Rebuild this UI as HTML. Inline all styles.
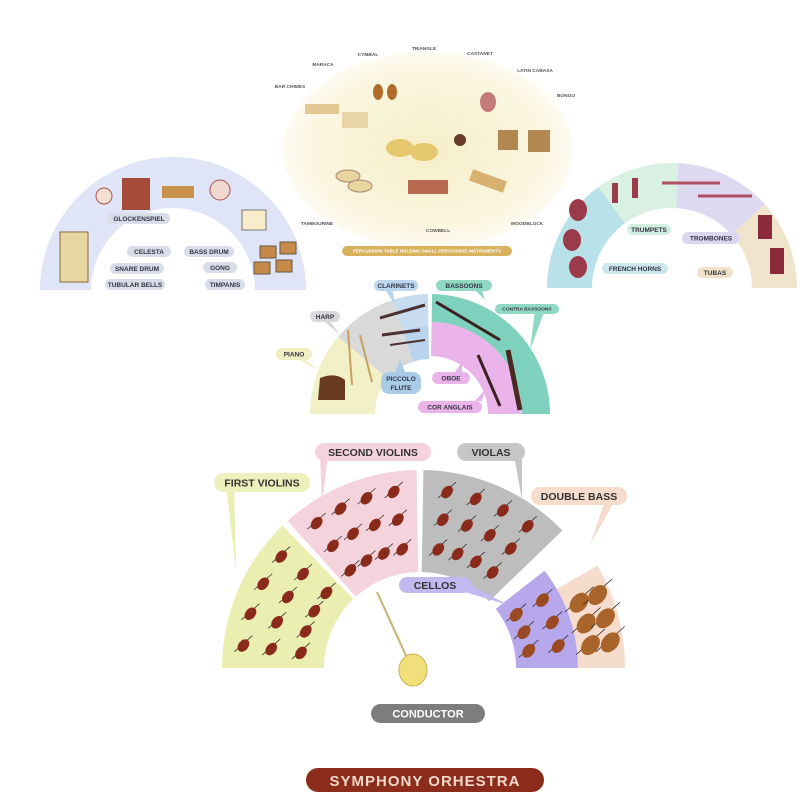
<!DOCTYPE html>
<html><head><meta charset="utf-8"><style>
body{margin:0;background:#fff;}
svg{display:block;font-family:"Liberation Sans",sans-serif;}
text{font-weight:bold;}
</style></head><body>
<svg id="s" width="800" height="800" viewBox="0 0 800 800">
<defs>
<radialGradient id="tbl" cx="50%" cy="50%" r="50%">
<stop offset="0" stop-color="#f6efc8"/><stop offset="0.8" stop-color="#faf6e0"/><stop offset="1" stop-color="#fdfbf2"/>
</radialGradient>
</defs>
<ellipse cx="428" cy="150" rx="145" ry="98" fill="url(#tbl)"/>
<g id="arcs"></g>
<g id="tails"></g>
<g id="inst"></g>
<g id="labels" font-size="7" fill="#445">
</g>
</svg>
<script>
const NS="http://www.w3.org/2000/svg";
const arcs=document.getElementById('arcs'), inst=document.getElementById('inst'), lab=document.getElementById('labels'), tails=document.getElementById('tails');
function P(cx,cy,r,a){a=a*Math.PI/180;return [cx+r*Math.cos(a),cy-r*Math.sin(a)];}
function sector(cx,cy,r1,r2,a1,a2,fill){
 const p1=P(cx,cy,r2,a1),p2=P(cx,cy,r2,a2),p3=P(cx,cy,r1,a2),p4=P(cx,cy,r1,a1);
 const e=document.createElementNS(NS,'path');
 e.setAttribute('d',`M${p1}A${r2},${r2} 0 0 1 ${p2}L${p3}A${r1},${r1} 0 0 0 ${p4}Z`);
 e.setAttribute('fill',fill);arcs.appendChild(e);
}
function el(tag,attrs,parent){const e=document.createElementNS(NS,tag);for(const k in attrs)e.setAttribute(k,attrs[k]);(parent||inst).appendChild(e);return e;}
function tail(x1,y1,x2,y2,x3,y3,c){el('polygon',{points:`${x1},${y1} ${x2},${y2} ${x3},${y3}`,fill:c},tails);}
// percussion left
sector(173,290,82,133,180,0,'#dfe4f6');
// brass
sector(672,288,80,125,180,126,'#b8e1e9');
sector(672,288,80,125,126,87,'#d9f1e2');
sector(672,288,80,125,87,42,'#ddd9f1');
sector(672,288,80,125,42,0,'#f1e4cc');
// woodwinds
sector(430,414,55,120,180,140,'#f1f0c6');
sector(430,414,55,120,140,108,'#d9d9d9');
sector(430,414,55,88,108,91,'#b9d3ec');
sector(430,414,88,120,108,91,'#c7dcf0');
sector(430,414,92,120,89,0,'#7ed2bd');
sector(430,414,58,92,89,0,'#eab4ea');
// strings
sector(420,668,158,205,30,0,'#f6dccd');
sector(420,668,96,198,180,134,'#eaeeb0');
sector(420,668,96,198,132,91,'#f4d3dc');
sector(420,668,96,198,89,44,'#bdbdbd');
sector(420,668,96,158,38,0,'#b7a8ec');
// tails
tail(226,485,234,485,236,570,'#eaeeb0');
tail(320,455,328,455,322,505,'#f4d3dc');
tail(514,455,522,455,522,500,'#c6c6c6');
tail(605,500,615,500,590,545,'#f6dccd');
tail(465,582,465,592,508,605,'#c4b8f0');
tail(382,285,392,285,395,305,'#bcd6ee');
tail(470,285,480,285,485,300,'#8fd8c4');
tail(535,310,545,310,530,350,'#8fd8c4');
tail(320,318,328,318,340,335,'#d9d9d9');
tail(296,352,300,360,318,370,'#efeec0');
tail(395,372,405,372,400,360,'#aacbe8');
tail(455,372,462,372,462,362,'#eab4ea');
tail(475,401,482,401,485,390,'#eab4ea');
// violins
function vio(x,y,s,col){el('line',{x1:x-9*s,y1:y+6*s,x2:x+9*s,y2:y-10*s,stroke:'#333','stroke-width':0.8});
 el('ellipse',{cx:x,cy:y,rx:5*s,ry:7*s,fill:col||'#8a2a1a',transform:`rotate(40 ${x} ${y})`});}
function ring(cx,cy,rs,a1,a2,n,s,col){for(const r of rs){for(let i=0;i<n;i++){const a=a1+(a2-a1)*(i+0.5)/n;const p=P(cx,cy,r,a);vio(p[0],p[1],s,col);}}}
ring(420,668,[120,150,178],178,136,4,1);
ring(420,668,[120,150,178],130,94,4,1);
ring(420,668,[120,150,178],86,48,4,1);
ring(420,668,[110,140],34,4,3,1.1,'#9a4a22');
ring(420,668,[172,192],26,4,3,1.6,'#a8642a');
// baton & hand
el('line',{x1:377,y1:592,x2:408,y2:660,stroke:'#c9b070','stroke-width':2});
el('ellipse',{cx:413,cy:670,rx:14,ry:16,fill:'#f1e07a',stroke:'#c9b050'});
// percussion instruments
el('rect',{x:60,y:232,width:28,height:50,fill:'#e8d6a0',stroke:'#8a6a3a'});
el('rect',{x:122,y:178,width:28,height:32,fill:'#a44a3a'});
el('rect',{x:162,y:186,width:32,height:12,fill:'#c8924a'});
el('circle',{cx:220,cy:190,r:10,fill:'#f0dad0',stroke:'#a55'});
el('circle',{cx:104,cy:196,r:8,fill:'#f3dfd3',stroke:'#a55'});
el('rect',{x:242,y:210,width:24,height:20,fill:'#f8eecb',stroke:'#777'});
for(const [x,y] of [[268,252],[288,248],[262,268],[284,266]])el('rect',{x:x-8,y:y-6,width:16,height:12,fill:'#c58a4a',stroke:'#654'});
// table items
el('rect',{x:305,y:104,width:34,height:10,fill:'#e3c894'});el('rect',{x:342,y:112,width:26,height:16,fill:'#e8d4a6'});
el('ellipse',{cx:378,cy:92,rx:5,ry:8,fill:'#b06a2a'});el('ellipse',{cx:392,cy:92,rx:5,ry:8,fill:'#b06a2a'});
el('ellipse',{cx:400,cy:148,rx:14,ry:9,fill:'#e5c870'});el('ellipse',{cx:424,cy:152,rx:14,ry:9,fill:'#e5c870'});
el('ellipse',{cx:348,cy:176,rx:12,ry:6,fill:'#e8d5a0',stroke:'#a87'});el('ellipse',{cx:360,cy:186,rx:12,ry:6,fill:'#e8d5a0',stroke:'#a87'});
el('rect',{x:408,y:180,width:40,height:14,fill:'#b86a50'});
el('rect',{x:470,y:175,width:36,height:12,fill:'#d8b070',transform:'rotate(20 488 181)'});
el('rect',{x:498,y:130,width:20,height:20,fill:'#b08850'});el('rect',{x:528,y:130,width:22,height:22,fill:'#b08850'});
el('ellipse',{cx:488,cy:102,rx:8,ry:10,fill:'#c57a7a'});
el('ellipse',{cx:460,cy:140,rx:6,ry:6,fill:'#6a3a2a'});
// brass instruments
for(const [x,y] of [[572,240],[578,267],[578,210]])el('ellipse',{cx:x,cy:y,rx:9,ry:11,fill:'#9a3a4a'});
el('rect',{x:612,y:183,width:6,height:20,fill:'#9a3a4a'});el('rect',{x:632,y:178,width:6,height:20,fill:'#9a3a4a'});
el('line',{x1:662,y1:183,x2:720,y2:183,stroke:'#b05060','stroke-width':3});el('line',{x1:698,y1:196,x2:752,y2:196,stroke:'#b05060','stroke-width':3});
el('rect',{x:758,y:215,width:14,height:24,fill:'#8a2a3a'});el('rect',{x:770,y:248,width:14,height:26,fill:'#8a2a3a'});
// woodwinds
el('path',{d:'M318 400 L320 378 Q335 372 345 380 L345 400Z',fill:'#6a3a20'});
el('path',{d:'M348 330 L352 385 M360 335 L372 382',stroke:'#c8a060','stroke-width':2,fill:'none'});
el('line',{x1:380,y1:318,x2:425,y2:305,stroke:'#4a3030','stroke-width':3});el('line',{x1:382,y1:335,x2:420,y2:330,stroke:'#4a3030','stroke-width':3});
el('line',{x1:390,y1:345,x2:425,y2:340,stroke:'#4a3030','stroke-width':2});
el('line',{x1:436,y1:302,x2:500,y2:340,stroke:'#3a2020','stroke-width':3});el('line',{x1:478,y1:355,x2:500,y2:406,stroke:'#3a2020','stroke-width':3});
el('line',{x1:508,y1:350,x2:520,y2:410,stroke:'#4a2a20','stroke-width':5});
// labels
function pill(x,y,w,h,t,fill,col,fs){el('rect',{x:x,y:y,width:w,height:h,rx:h/2,fill:fill},lab);
 const tt=el('text',{x:x+w/2,y:y+h/2+fs*0.36,'text-anchor':'middle','font-size':fs,fill:col||'#334'},lab);tt.textContent=t;}
const g='#d8dde8';
pill(108,213,62,11,'GLOCKENSPIEL',g,null,6.5);pill(127,246,44,11,'CELESTA',g,null,6.5);pill(184,246,50,11,'BASS DRUM',g,null,6.5);
pill(110,263,54,11,'SNARE DRUM',g,null,6.5);pill(203,262,34,11,'GONG',g,null,6.5);pill(105,279,60,11,'TUBULAR BELLS',g,null,6.5);pill(205,279,40,11,'TIMPANIS',g,null,6.5);
pill(627,224,44,11,'TRUMPETS','#d2eee0',null,6.5);pill(682,232,58,12,'TROMBONES','#dcd6f0',null,6.5);
pill(602,263,66,11,'FRENCH HORNS','#cce8ec',null,6.5);pill(697,267,36,11,'TUBAS','#f0e2c8',null,6.5);
pill(342,246,170,10,'PERCUSSION TABLE HOLDING SMALL PERCUSSIVE INSTRUMENTS','#d9b25e','#fff',4.5);
const p=(x,y,t)=>{const e=el('text',{x:x,y:y,'font-size':4.8,fill:'#555','text-anchor':'middle'},lab);e.textContent=t;};
p(290,88,'BAR CHIMES');p(323,66,'MARACA');p(368,56,'CYMBAL');p(424,50,'TRIANGLE');p(480,55,'CASTANET');p(535,72,'LATIN CABASA');p(566,97,'BONGO');
p(317,225,'TAMBOURINE');p(438,232,'COWBELL');p(527,225,'WOODBLOCK');
pill(374,280,44,11,'CLARINETS','#bcd6ee',null,6.5);pill(436,280,56,11,'BASSOONS','#8fd8c4',null,6.5);
pill(495,304,64,10,'CONTRA BASSOONS','#8fd8c4',null,4.8);pill(310,311,30,11,'HARP','#d9d9d9',null,6.5);
pill(276,348,36,12,'PIANO','#efeec0',null,6.5);pill(432,372,38,12,'OBOE','#eab4ea',null,6.5);pill(418,401,64,12,'COR  ANGLAIS','#eab4ea',null,6.5);
el('rect',{x:381,y:372,width:40,height:22,rx:8,fill:'#aacbe8'},lab);
let t=el('text',{x:401,y:381,'text-anchor':'middle','font-size':6.5,fill:'#334'},lab);t.textContent='PICCOLO';
t=el('text',{x:401,y:390,'text-anchor':'middle','font-size':6.5,fill:'#334'},lab);t.textContent='FLUTE';
pill(214,473,96,19,'FIRST VIOLINS','#ecf0ba','#333',10.5);pill(315,443,116,18,'SECOND VIOLINS','#f4d3dc','#333',10.5);
pill(457,443,68,18,'VIOLAS','#c6c6c6','#333',10.5);pill(531,487,96,18,'DOUBLE BASS','#f6dccd','#333',10.5);
pill(399,577,72,16,'CELLOS','#c4b8f0','#333',10.5);pill(371,704,114,19,'CONDUCTOR','#7d7d7d','#fff',11);
el('rect',{x:306,y:768,width:238,height:24,rx:12,fill:'#8c2c1c'},lab);
t=el('text',{x:425,y:786,'text-anchor':'middle','font-size':15,fill:'#f0d8c8','font-weight':'normal','letter-spacing':'1'},lab);t.textContent='SYMPHONY ORHESTRA';
</script>
</body></html>
